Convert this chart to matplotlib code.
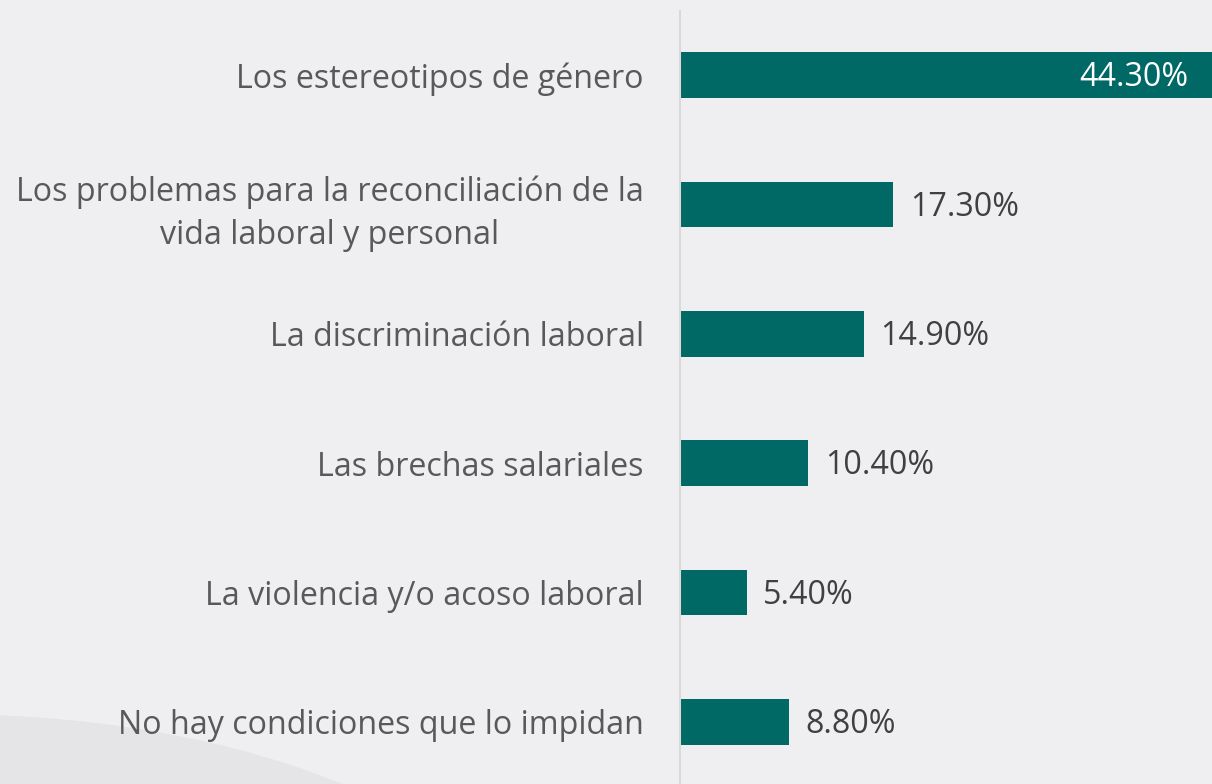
import matplotlib
matplotlib.use("Agg")
import matplotlib.pyplot as plt
from matplotlib.patches import Ellipse

categories = [
    "Los estereotipos de género",
    "Los problemas para la reconciliación de la\nvida laboral y personal",
    "La discriminación laboral",
    "Las brechas salariales",
    "La violencia y/o acoso laboral",
    "No hay condiciones que lo impidan",
]
values = [44.3, 17.3, 14.9, 10.4, 5.4, 8.8]
labels = ["44.30%", "17.30%", "14.90%", "10.40%", "5.40%", "8.80%"]

plt.rcParams['font.family'] = ['Open Sans', 'DejaVu Sans']

W, H = 1212, 784
fig = plt.figure(figsize=(W / 100, H / 100), dpi=100)
fig.patch.set_facecolor('#efeef0')

# subtle background shape
bg = fig.add_axes([0, 0, 1, 1], zorder=0)
bg.set_xlim(0, W)
bg.set_ylim(H, 0)
bg.axis('off')
bg.add_patch(Ellipse((-50, 1000), 1196, 570, color='#e5e5e7', zorder=0))

left_px, top_px, bottom_px = 680, 10.5, 786.5
ax = fig.add_axes([left_px / W, 1 - bottom_px / H, (W - left_px) / W, (bottom_px - top_px) / H], zorder=1)
ax.patch.set_alpha(0)

color = '#006966'
y = list(range(len(categories)))
ax.barh(y, values, height=0.355, color=color, zorder=2)
ax.set_ylim(len(categories) - 0.5, -0.5)
ax.set_xlim(0, (W - left_px) / 12.33)

fs = 23.2
for i, (v, lab) in enumerate(zip(values, labels)):
    if i == 0:
        ax.annotate(lab, xy=(ax.get_xlim()[1], i), xytext=(-17, -2), textcoords='offset points',
                    ha='right', va='center', color='white', fontsize=fs)
    else:
        ax.annotate(lab, xy=(v, i), xytext=(12, -2), textcoords='offset points',
                    ha='left', va='center', color='#404040', fontsize=fs)

ax.set_yticks(y)
ax.set_yticklabels(categories, fontsize=fs, color='#595959', multialignment='center',
                   linespacing=1.4)
ax.tick_params(axis='y', length=0, pad=26)
ax.set_xticks([])
for s in ['top', 'right', 'bottom']:
    ax.spines[s].set_visible(False)
ax.spines['left'].set_color('#d9d9d9')
ax.spines['left'].set_linewidth(1.5)

fig.savefig('out.png', dpi=100, facecolor=fig.get_facecolor())
